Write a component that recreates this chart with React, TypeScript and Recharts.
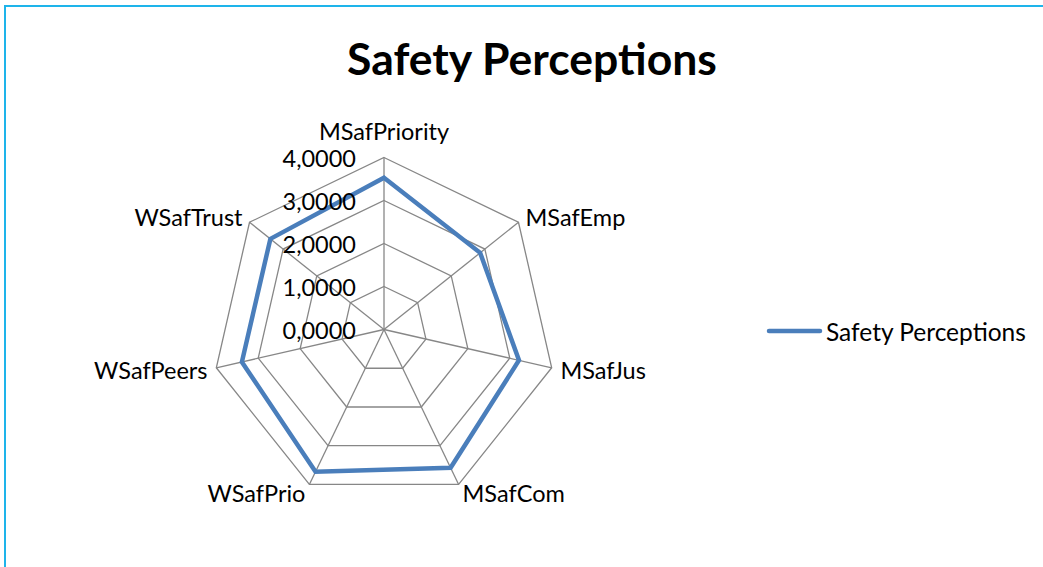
import React from 'react';
import { RadarChart, Radar, PolarGrid, PolarAngleAxis, PolarRadiusAxis, Legend } from 'recharts';

const categories = ['MSafPriority', 'MSafEmp', 'MSafJus', 'MSafCom', 'WSafPrio', 'WSafPeers', 'WSafTrust'];
const safetyValues = [3.53, 2.86, 3.22, 3.57, 3.67, 3.39, 3.38];
const radiusTicks = [0, 1, 2, 3, 4];
const seriesName = 'Safety Perceptions';
const chartTitle = 'Safety Perceptions';

const data = categories.map((c, i) => ({ name: c, value: safetyValues[i] }));

const CX = 384;
const CY = 329.5;
const R = 172;
const FONT = 'Lato, "Noto Sans", sans-serif';

const AngleTick = (props: any) => {
  const { payload } = props;
  const ang = (payload.coordinate * Math.PI) / 180;
  const cosA = Math.cos(ang);
  const sinA = Math.sin(ang);
  let x = CX + (R + 9) * cosA;
  let y = CY - (R + 9) * sinA;
  let anchor: 'start' | 'middle' | 'end' = 'middle';
  if (cosA > 0.1) anchor = 'start';
  else if (cosA < -0.1) anchor = 'end';
  if (anchor === 'middle' && sinA > 0) y -= 18;
  return (
    <text x={x} y={y} textAnchor={anchor} dominantBaseline="central" fontSize={23.5} fontFamily={FONT} fill="#000">
      {payload.value}
    </text>
  );
};

const RadiusTick = (props: any) => {
  const { y, payload } = props;
  const label = Number(payload.value).toFixed(4).replace('.', ',');
  return (
    <text x={CX - 28} y={y} textAnchor="end" dominantBaseline="central" fontSize={23.5} fontFamily={FONT} fill="#000">
      {label}
    </text>
  );
};

const LegendContent = () => (
  <svg width={275} height={30}>
    <line x1={3} y1={15} x2={54} y2={15} stroke="#4A7EBB" strokeWidth={4.5} strokeLinecap="round" />
    <text x={60} y={15} dominantBaseline="central" fontSize={24.5} fontFamily={FONT} fill="#000">
      {seriesName}
    </text>
  </svg>
);

export default function App() {
  return (
    <div style={{ position: 'absolute', left: 0, top: 0, width: 1043, height: 567, background: '#fff', overflow: 'hidden' }}>
      <div
        style={{
          position: 'absolute',
          left: 4,
          top: 5,
          width: 1045,
          height: 580,
          border: '2px solid #1EB4EA',
          boxSizing: 'border-box',
        }}
      />
      <div
        style={{
          position: 'absolute',
          left: 0,
          width: 1064,
          top: 31,
          textAlign: 'center',
          fontFamily: FONT,
          fontWeight: 'bold',
          fontSize: 44.5,
          lineHeight: '54px',
          color: '#000',
        }}
      >
        {chartTitle}
      </div>
      <div style={{ position: 'absolute', left: 0, top: 0 }}>
        <RadarChart width={1043} height={567} data={data} cx={CX} cy={CY} outerRadius={R} margin={{ top: 0, right: 0, bottom: 0, left: 0 }}>
          <PolarGrid gridType="polygon" stroke="#878787" strokeWidth={1.3} />
          <PolarAngleAxis dataKey="name" tick={AngleTick} tickLine={false} axisLine={false} />
          <PolarRadiusAxis
            angle={90}
            domain={[0, 4]}
            ticks={radiusTicks as any}
            tickCount={5}
            tick={RadiusTick}
            axisLine={false}
            tickLine={false}
          />
          <Radar
            name={seriesName}
            dataKey="value"
            stroke="#4A7EBB"
            strokeWidth={4.5}
            fill="none"
            fillOpacity={0}
            dot={false}
            isAnimationActive={false}
          />
          <Legend
            content={LegendContent}
            wrapperStyle={{ position: 'absolute', left: 766, top: 316, width: 275 }}
          />
        </RadarChart>
      </div>
    </div>
  );
}
